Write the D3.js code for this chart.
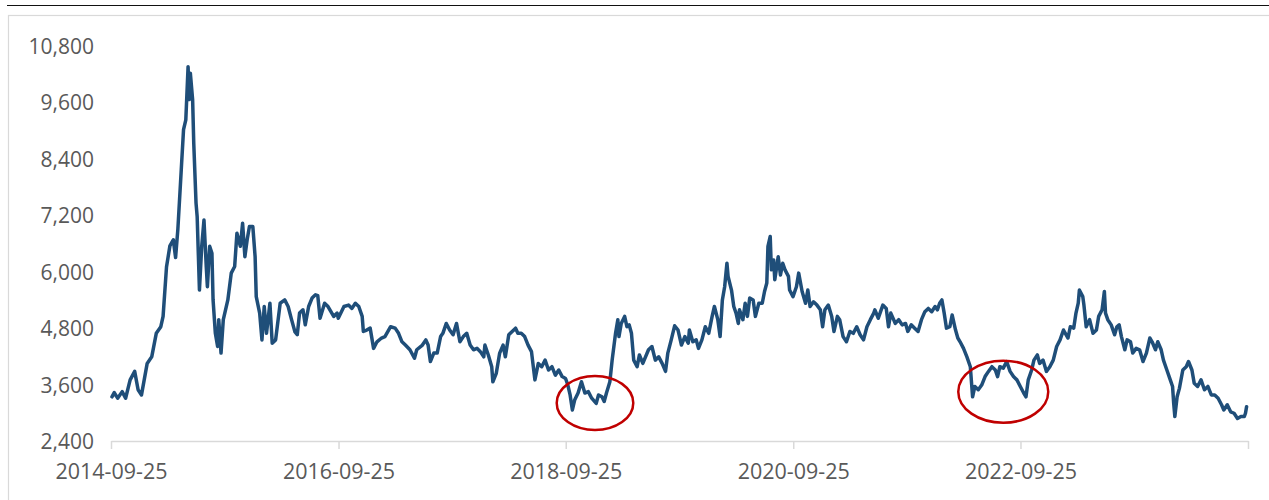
<!DOCTYPE html>
<html><head><meta charset="utf-8">
<script src="https://cdn.jsdelivr.net/npm/d3@7/dist/d3.min.js"></script>
<style>html,body{margin:0;padding:0;background:#fff;} svg{display:block;}</style>
</head><body><svg id="chart" width="1269" height="500"></svg>
<script>
// decimal-year timestamps of sampled points
const years = [
2014.74,2014.76,2014.79,2014.83,2014.86,2014.90,2014.94,2014.97,2015.00,2015.05,2015.09,2015.13,2015.17,2015.19,2015.22,2015.25,2015.28,2015.30,2015.32,2015.35,
2015.37,2015.39,2015.41,2015.42,2015.43,2015.45,2015.46,2015.48,2015.49,2015.51,2015.53,2015.55,2015.57,2015.58,2015.60,2015.62,2015.63,2015.65,2015.67,2015.68,
2015.70,2015.72,2015.76,2015.79,2015.82,2015.84,2015.87,2015.89,2015.91,2015.93,2015.95,2015.98,2016.00,2016.01,2016.04,2016.06,2016.08,2016.10,2016.13,2016.15,
2016.18,2016.22,2016.26,2016.29,2016.32,2016.35,2016.37,2016.39,2016.42,2016.44,2016.47,2016.50,2016.53,2016.55,2016.57,2016.61,2016.64,2016.69,2016.72,2016.73,
2016.78,2016.82,2016.85,2016.88,2016.91,2016.94,2016.95,2016.98,2017.01,2017.04,2017.07,2017.11,2017.14,2017.19,2017.23,2017.26,2017.29,2017.32,2017.36,2017.40,
2017.42,2017.47,2017.50,2017.52,2017.54,2017.57,2017.60,2017.63,2017.65,2017.68,2017.71,2017.74,2017.77,2017.80,2017.83,2017.86,2017.89,2017.92,2017.95,2017.98,
2018.01,2018.02,2018.05,2018.08,2018.09,2018.12,2018.15,2018.18,2018.20,2018.23,2018.26,2018.29,2018.31,2018.34,2018.37,2018.40,2018.43,2018.46,2018.49,2018.52,
2018.55,2018.58,2018.61,2018.64,2018.67,2018.70,2018.73,2018.75,2018.77,2018.79,2018.81,2018.84,2018.87,2018.90,2018.93,2018.96,2019.00,2019.02,2019.05,2019.07,
2019.09,2019.12,2019.14,2019.17,2019.19,2019.20,2019.22,2019.25,2019.27,2019.29,2019.31,2019.33,2019.36,2019.38,2019.41,2019.46,2019.49,2019.52,2019.55,2019.58,
2019.61,2019.63,2019.66,2019.69,2019.72,2019.75,2019.78,2019.81,2019.82,2019.85,2019.88,2019.90,2019.93,2019.96,2019.99,2020.02,2020.04,2020.07,2020.09,2020.11,
2020.13,2020.15,2020.16,2020.19,2020.21,2020.23,2020.25,2020.26,2020.29,2020.31,2020.33,2020.35,2020.38,2020.40,2020.43,2020.46,2020.48,2020.50,2020.51,2020.53,
2020.54,2020.56,2020.57,2020.60,2020.62,2020.64,2020.66,2020.69,2020.70,2020.73,2020.76,2020.78,2020.81,2020.84,2020.86,2020.88,2020.91,2020.94,2020.97,2020.99,
2021.01,2021.04,2021.07,2021.09,2021.12,2021.14,2021.17,2021.20,2021.23,2021.26,2021.29,2021.32,2021.35,2021.38,2021.41,2021.44,2021.45,2021.48,2021.50,2021.52,
2021.55,2021.57,2021.59,2021.63,2021.66,2021.69,2021.72,2021.74,2021.77,2021.80,2021.83,2021.86,2021.89,2021.92,2021.95,2021.98,2022.00,2022.02,2022.04,2022.06,
2022.08,2022.11,2022.13,2022.16,2022.18,2022.20,2022.23,2022.26,2022.29,2022.31,2022.33,2022.36,2022.39,2022.42,2022.45,2022.48,2022.51,2022.53,2022.55,2022.58,
2022.61,2022.64,2022.67,2022.70,2022.73,2022.76,2022.78,2022.80,2022.83,2022.85,2022.88,2022.90,2022.93,2022.96,2022.99,2023.02,2023.05,2023.08,2023.11,2023.15,
2023.17,2023.20,2023.22,2023.24,2023.25,2023.28,2023.29,2023.31,2023.34,2023.37,2023.40,2023.42,2023.45,2023.47,2023.48,2023.50,2023.53,2023.56,2023.58,2023.60,
2023.62,2023.65,2023.67,2023.70,2023.72,2023.75,2023.78,2023.81,2023.84,2023.87,2023.89,2023.92,2023.94,2023.97,2023.99,2024.02,2024.05,2024.07,2024.08,2024.09,
2024.11,2024.13,2024.16,2024.19,2024.21,2024.24,2024.26,2024.29,2024.32,2024.35,2024.38,2024.41,2024.44,2024.47,2024.50,2024.52,2024.55,2024.58,2024.61,2024.64,
2024.67,2024.70,2024.71,2024.72
];
const values = [
3340,3430,3310,3450,3310,3700,3880,3490,3380,4050,4190,4690,4830,5050,6100,6550,6680,6300,6900,8170,
9020,9230,10360,9660,10220,9660,8730,7460,7170,5610,6540,7100,6110,5680,6540,6390,5400,4690,4410,4980,
4270,4980,5400,5970,6110,6820,6540,7030,6320,6680,6960,6960,6320,5470,5120,4550,5260,4690,5330,4480,
4550,5330,5400,5260,4980,4720,4660,5120,5190,4870,5260,5440,5510,5490,5010,5330,5260,5050,5120,5010,
5260,5290,5220,5330,5260,5050,4730,4760,4800,4370,4510,4590,4620,4830,4800,4690,4510,4440,4340,4160,
4340,4440,4550,4440,4090,4270,4270,4620,4690,4900,4760,4660,4900,4510,4620,4690,4440,4340,4370,4300,
4190,4440,4230,3980,3660,3840,4270,4440,4190,4660,4730,4800,4690,4690,4620,4440,4300,3700,4050,3980,
4120,3910,3980,3800,3910,3770,3730,3590,3380,3060,3270,3420,3660,3420,3450,3310,3200,3380,3340,3240,
3420,3660,4120,4690,4980,4620,4900,5050,4830,4870,4690,4120,3980,4230,4050,4340,4410,4120,4190,4050,
3880,4270,4550,4850,4760,4440,4620,4480,4760,4510,4550,4370,4550,4830,4690,5050,5260,4980,4620,5400,
5680,6180,5900,5610,5260,5120,4900,5190,4980,5330,5050,5440,5400,5050,5330,5330,5580,5760,6540,6750,
6040,6250,5830,6320,5930,6180,6040,5900,5610,5470,5680,5970,5580,5330,5610,5260,5360,5290,5190,4830,
5190,5290,5050,4730,5050,4980,4620,4510,4730,4690,4830,4660,4550,4830,4980,5120,5190,5010,5150,5290,
5220,4830,5120,4900,4980,4870,4900,4730,4870,4800,4730,4980,5150,5220,5150,5260,5190,5330,5400,5120,
4800,4830,5080,4760,4590,4510,4370,4190,3980,3340,3560,3490,3590,3770,3880,3980,3910,3770,3980,3950,
4090,3880,3770,3700,3560,3420,3340,3700,3910,4120,4230,4050,4120,3880,3980,4120,4410,4550,4760,4590,
4830,4800,5120,5330,5610,5470,5290,4830,4980,4690,4760,5050,5190,5580,5120,4980,4870,4660,4830,4870,
4620,4340,4550,4510,4270,4370,4340,4090,4270,4590,4510,4340,4510,4340,4120,3910,3700,3560,3200,2920,
3340,3520,3910,3980,4090,3910,3630,3560,3700,3490,3560,3380,3380,3310,3170,3060,3170,3020,2990,2880,
2920,2920,2990,3130
];
const yTicks = [2400, 3600, 4800, 6000, 7200, 8400, 9600, 10800];
const xTickDates = ["2014-09-25","2016-09-25","2018-09-25","2020-09-25","2022-09-25","2024-09-25"];
const xTickLabels = ["2014-09-25","2016-09-25","2018-09-25","2020-09-25","2022-09-25",""];
// highlighted regions (decimal-year span, value span)
const markStart = [2018.652, 2022.184];
const markEnd = [2019.326, 2022.976];
const markLow = [2634, 2789];
const markHigh = [3783, 4108];

const toDate = t => { const y = Math.floor(t); const s = Date.UTC(y,0,1), e = Date.UTC(y+1,0,1); return new Date(s + (t - y) * (e - s)); };
const parse = d3.utcParse("%Y-%m-%d");

const svg = d3.select("#chart");
const FONT = "'Open Sans', sans-serif";

// frame
svg.append("line").attr("x1",7).attr("x2",1269).attr("y1",5.5).attr("y2",5.5).attr("stroke","#111").attr("stroke-width",1);
svg.append("rect").attr("x",8.5).attr("y",15.5).attr("width",1300).attr("height",600).attr("fill","none").attr("stroke","#d9d9d9").attr("stroke-width",1.2);

const x = d3.scaleUtc().domain([parse(xTickDates[0]), parse(xTickDates[xTickDates.length-1])]).range([111, 1248]);
const y = d3.scaleLinear().domain([2400, 10800]).range([441, 46]);

// x axis
const xAxis = svg.append("g").attr("transform","translate(0,441)")
  .call(d3.axisBottom(x).tickValues(xTickDates.map(parse)).tickSize(8).tickSizeOuter(0)
    .tickFormat((d,i) => xTickLabels[i]));
xAxis.select(".domain").attr("stroke","#d9d9d9").attr("stroke-width",1.5);
xAxis.selectAll(".tick line").attr("stroke","#d9d9d9").attr("stroke-width",1.5);
xAxis.selectAll(".tick text").attr("y",38).attr("dy",0).attr("font-family",FONT).attr("font-size",21.5).attr("fill","#595959");

// y axis labels
const yAxis = svg.append("g").attr("transform","translate(94,0)")
  .call(d3.axisLeft(y).tickValues(yTicks).tickSize(0).tickPadding(0).tickFormat(d3.format(",")));
yAxis.select(".domain").remove();
yAxis.selectAll(".tick text").attr("font-family",FONT).attr("font-size",21).attr("fill","#595959").attr("dy","0.36em");

// line
const data = years.map((t,i) => ({d: toDate(t), v: values[i]}));
svg.append("path").datum(data)
  .attr("d", d3.line().x(p => x(p.d)).y(p => y(p.v)))
  .attr("fill","none").attr("stroke","#1F4E79").attr("stroke-width",3.5).attr("stroke-linejoin","round").attr("stroke-linecap","round");

// highlight ellipses
markStart.forEach((t0,i) => {
  const x0 = x(toDate(t0)), x1 = x(toDate(markEnd[i]));
  const y0 = y(markHigh[i]), y1 = y(markLow[i]);
  svg.append("ellipse").attr("cx",(x0+x1)/2).attr("cy",(y0+y1)/2).attr("rx",(x1-x0)/2).attr("ry",(y1-y0)/2)
    .attr("fill","none").attr("stroke","#C00000").attr("stroke-width",2.5);
});
</script></body></html>
